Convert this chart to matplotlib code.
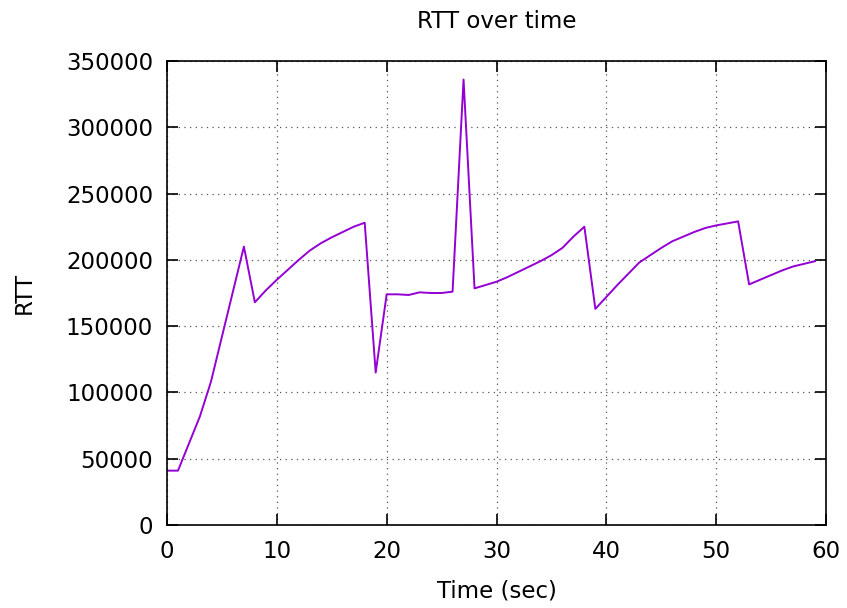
import numpy as np
import matplotlib.pyplot as plt

# RTT samples, one per second
time_sec = list(range(0, 60))
rtt = [41000, 41000, 61500, 82000, 108000, 142000, 176000, 210000, 168000, 177000,
       185000, 192500, 200000, 207000, 212500, 217000, 221000, 225000, 228000, 115000,
       174000, 174000, 173500, 175500, 175000, 175000, 176000, 336000, 178500, 181000,
       183500, 187000, 191000, 195000, 199000, 203500, 209000, 217500, 225000, 163000,
       172000, 181000, 189500, 198000, 203500, 209000, 214000, 217500, 221000, 224000,
       226000, 227500, 229000, 181500, 185000, 188500, 192000, 195000, 197000, 199000]

x_ticks = [0, 10, 20, 30, 40, 50, 60]
y_ticks = [0, 50000, 100000, 150000, 200000, 250000, 300000, 350000]


def main():
    fig = plt.figure(figsize=(8.47, 6.08), dpi=100)
    ax = fig.add_axes([167 / 847, 1 - 525 / 608, (826 - 167) / 847, (525 - 61) / 608])

    ax.plot(time_sec, rtt, color='#9400d3', linewidth=1.4)

    ax.set_xlim(0, 60)
    ax.set_ylim(0, 350000)
    ax.set_xticks(x_ticks)
    ax.set_yticks(y_ticks)
    ax.tick_params(direction='in', top=True, right=True, length=8, width=1.2,
                   labelsize=16.5)
    ax.tick_params(axis='x', pad=11)
    ax.tick_params(axis='y', pad=10)
    ax.grid(True, linestyle=(0, (1, 3.5)), color='#555555', linewidth=0.9)
    for sp in ax.spines.values():
        sp.set_linewidth(1.2)

    ax.set_title('RTT over time', fontsize=16.5, pad=24)
    ax.set_xlabel('Time (sec)', fontsize=16.5, labelpad=12)
    ax.set_ylabel('RTT', fontsize=16.5, labelpad=22)

    fig.savefig('out.png', dpi=100)


if __name__ == '__main__':
    main()
